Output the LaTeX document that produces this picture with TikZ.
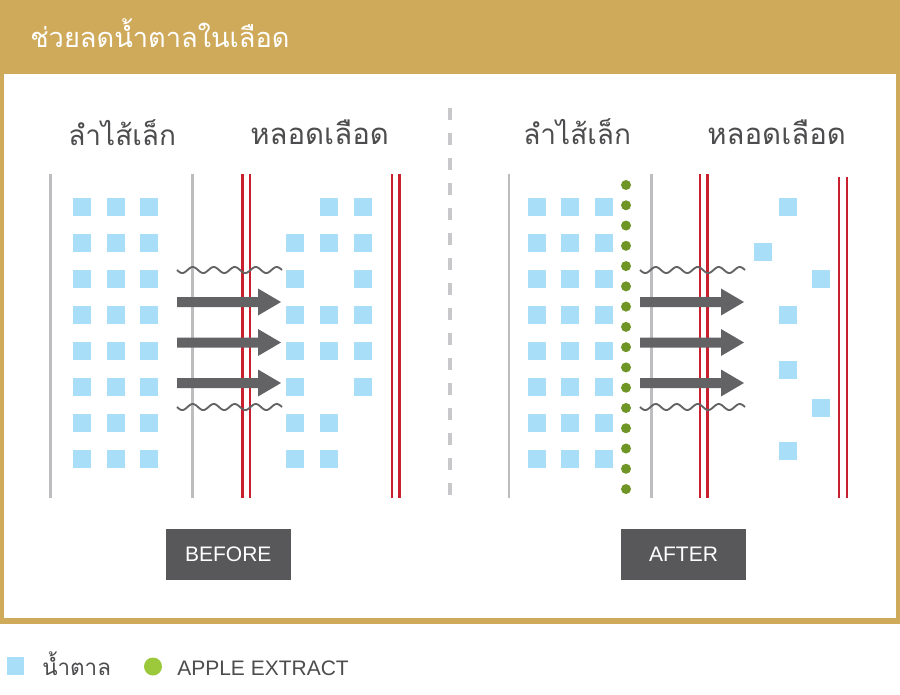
\documentclass[tikz,border=0pt]{standalone}
\usepackage{fontspec}
\setmainfont{Liberation Sans}
\newfontfamily\thaifont[Script=Thai]{Loma}
\definecolor{gold}{HTML}{CFAA5B}
\definecolor{sugar}{HTML}{A8DEF8}
\definecolor{wallgray}{HTML}{BDBDC0}
\definecolor{vessel}{HTML}{C8202F}
\definecolor{arrowgray}{HTML}{636365}
\definecolor{labelgray}{HTML}{4D4D4F}
\definecolor{boxgray}{HTML}{58585A}
\definecolor{dotgreen}{HTML}{6E9526}
\definecolor{leggreen}{HTML}{9CC93B}
\definecolor{divgray}{HTML}{C8C8CA}
\tikzset{
  titletext/.style={anchor=base west,inner sep=0pt,text=white,font=\thaifont\fontsize{20.4}{20.4}\selectfont},
  gutlabel/.style={anchor=base west,inner sep=0pt,text=labelgray,font=\thaifont\fontsize{21}{21}\selectfont},
  bloodlabel/.style={anchor=base west,inner sep=0pt,text=labelgray,font=\thaifont\fontsize{22}{22}\selectfont},
  wall/.style={draw=wallgray,line width=1.9pt},
  vesselline/.style={draw=vessel,line width=2pt},
  wavy/.style={draw=arrowgray,line width=1.4pt},
  flow/.style={fill=arrowgray},
  phasebox/.style={fill=boxgray,text=white,minimum width=93.75pt,minimum height=38.25pt,inner sep=0pt,font=\fontsize{15.75}{15.75}\selectfont},
  legtext/.style={anchor=base west,inner sep=0pt,text=labelgray,font=\fontsize{15.75}{15.75}\selectfont},
  legthai/.style={anchor=base west,inner sep=0pt,text=labelgray,font=\thaifont\fontsize{16.8}{16.8}\selectfont},
}
\newcommand{\sugarsq}[2]{\fill[sugar] ({#1-9},{#2-9}) rectangle ++(18,18);}
\newcommand{\flowarrow}[3]{\fill[flow] (#1,{#3-5}) -- (#2,{#3-5}) -- (#2,{#3-13.5}) -- ({#2+23},#3) -- (#2,{#3+13.5}) -- (#2,{#3+5}) -- (#1,{#3+5}) -- cycle;}
\begin{document}
\begin{tikzpicture}[x=0.75pt,y=-0.75pt]
\useasboundingbox (0,0) rectangle (900,694);
\fill[white] (0,0) rectangle (900,694);
\fill[gold] (0,0) rectangle (900,624);
\fill[white] (4,74) rectangle (896,618);
\node[titletext] (title) at (30,47) {ช่วยลดน้ำตาลในเลือด};
% labels
\node[gutlabel] (gutL) at (68,145) {ลำไส้เล็ก};
\node[bloodlabel] (bloodL) at (250,144) {หลอดเลือด};
\node[gutlabel] (gutR) at (523,144) {ลำไส้เล็ก};
\node[bloodlabel] (bloodR) at (707,144) {หลอดเลือด};
% divider
\draw[draw=divgray,line width=2.6pt,dash pattern=on 9pt off 9.75pt] (450,108) -- (450,500);
% BEFORE walls
\draw[wall] (50.5,174) -- (50.5,498);
\draw[wall] (192.5,174) -- (192.5,498);
\draw[vesselline] (242.5,174) -- (242.5,498);
\draw[vesselline] (250,174) -- (250,498);
\draw[vesselline] (392,174) -- (392,498);
\draw[vesselline] (399.5,174) -- (399.5,498);
% AFTER walls
\draw[wall] (509,174) -- (509,498);
\draw[wall] (651.5,174) -- (651.5,498);
\draw[vesselline] (700,174) -- (700,498);
\draw[vesselline] (707.5,174) -- (707.5,498);
\draw[vesselline] (839,177) -- (839,498);
\draw[vesselline] (847,177) -- (847,498);
% sugar in gut
\foreach \r in {0,...,7}{
  \foreach \c in {82,115.5,149}{ \sugarsq{\c}{207+36*\r} }
  \foreach \c in {536.5,570,604}{ \sugarsq{\c}{207+36*\r} }
}
% BEFORE sugar in blood
\foreach \c/\r in {329/207,362.5/207,295/243,329/243,362.5/243,295/279,362.5/279,295/315,329/315,362.5/315,295/351,329/351,362.5/351,295/387,362.5/387,295/423,329/423,295/459,329/459}{ \sugarsq{\c}{\r} }
% AFTER sugar in blood
\foreach \c/\r in {787.5/207,763/252,821/279,787.5/315,787.5/369.5,821/408,787.5/451}{ \sugarsq{\c}{\r} }
% apple extract dots
\foreach \k in {0,...,15}{ \fill[dotgreen] (626,{185+20.27*\k}) circle (5); }
% waves
\foreach \xs in {177,640}{
  \draw[wavy] plot[domain=0:105,samples=140] ({\xs+\x},{270+3*sin(\x*17.142857)});
  \draw[wavy] plot[domain=0:105,samples=140] ({\xs+\x},{407+3*sin(\x*17.142857)});
}
% arrows
\foreach \yy in {302,342.5,383}{
  \flowarrow{177}{258}{\yy}
  \flowarrow{640}{721}{\yy}
}
% phase boxes
\node[phasebox] (before) at (228.25,554.5) {BEFORE};
\node[phasebox] (after) at (683.5,554.5) {AFTER};
% legend
\fill[sugar] (7,657) rectangle (24,675);
\node[legthai] (legsugar) at (42,675) {น้ำตาล};
\fill[leggreen] (153,666.5) circle (9);
\node[legtext] (legapple) at (177,675) {APPLE EXTRACT};
\end{tikzpicture}
\end{document}
